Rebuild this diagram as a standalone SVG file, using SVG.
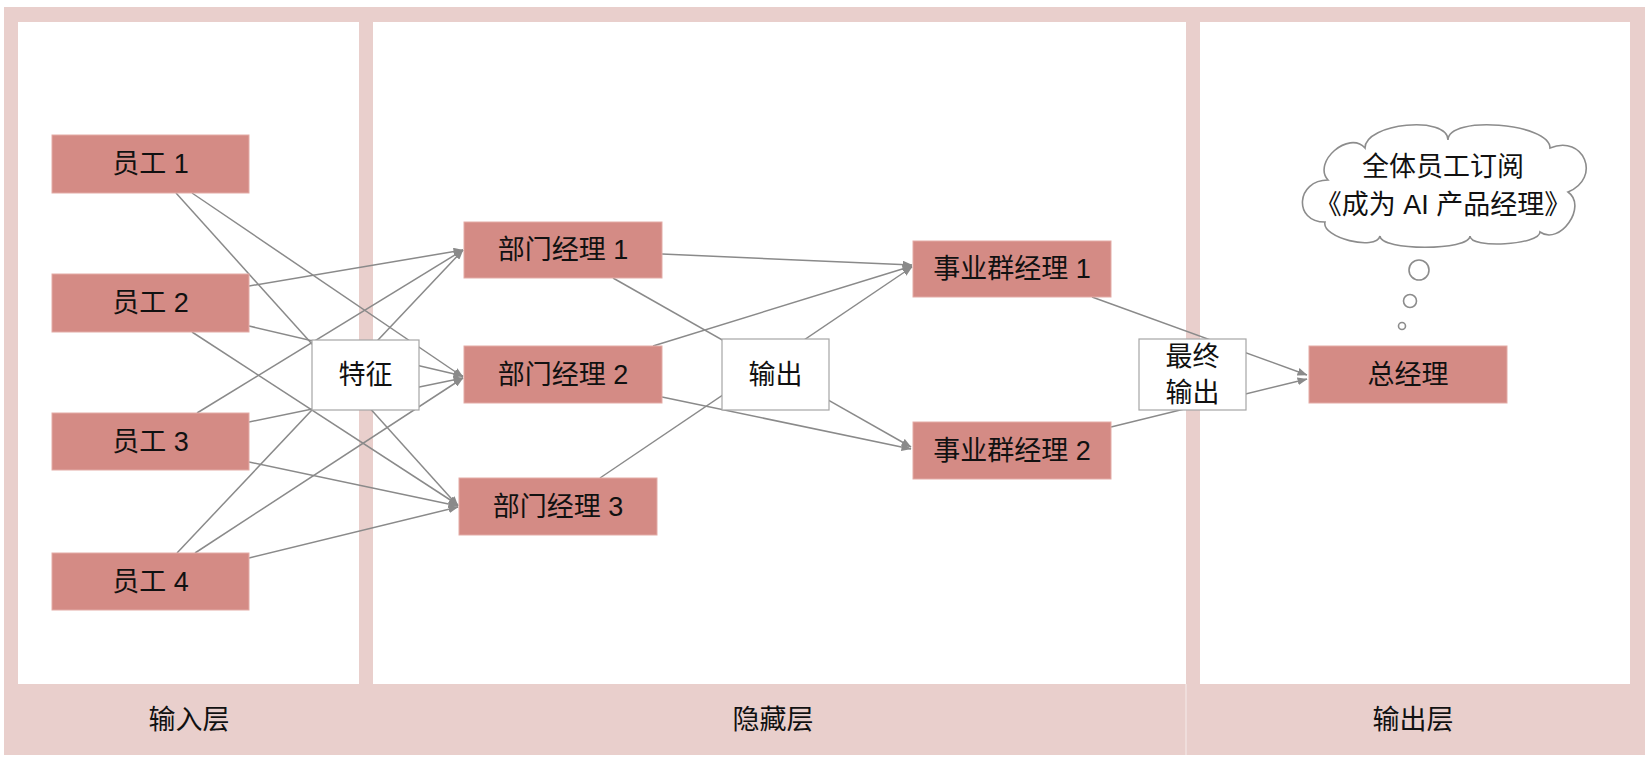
<svg xmlns="http://www.w3.org/2000/svg" width="1651" height="758" viewBox="0 0 1651 758">
  <defs>
    <style>
      .band { fill: #E9CFCC; }
      .panel { fill: #FFFFFF; }
      .node rect { fill: #D48B85; stroke: #E3ABA6; stroke-width: 1; }
      .mid rect { fill: #FFFFFF; stroke: #A6A6A6; stroke-width: 1.2; }
      text { font-family: "Liberation Sans", "Noto Sans CJK SC", sans-serif; font-size: 27px; fill: #111111; text-anchor: middle; dominant-baseline: central; }
      .edge { stroke: #8A8A8A; stroke-width: 1.5; fill: none; marker-end: url(#arrow); }
      .cloud { fill: #FFFFFF; stroke: #8C8C8C; stroke-width: 1.6; }
    </style>
    <marker id="arrow" markerWidth="10" markerHeight="8" refX="9.5" refY="4" orient="auto" markerUnits="userSpaceOnUse">
      <path d="M0,0 L10,4 L0,8 Z" fill="#8A8A8A"/>
    </marker>
  </defs>

  <rect x="0" y="0" width="1651" height="758" fill="#FFFFFF"/>

  <g id="frame">
    <rect class="band" x="4" y="7" width="1641" height="748"/>
    <rect class="panel" x="18" y="22" width="341" height="662"/>
    <rect class="panel" x="373" y="22" width="813" height="662"/>
    <rect class="panel" x="1200" y="22" width="430" height="662"/>
    <line x1="1186" y1="684" x2="1186" y2="755" stroke="#F6ECEB" stroke-width="1"/>
  </g>

  <g id="layer-labels">
    <text x="189" y="720">输入层</text>
    <text x="773" y="720">隐藏层</text>
    <text x="1413" y="720">输出层</text>
  </g>

  <g id="connectors">
    <line class="edge" x1="176" y1="193" x2="458" y2="506"/>
    <line class="edge" x1="192" y1="193" x2="463" y2="377"/>
    <line class="edge" x1="249" y1="286" x2="463" y2="250"/>
    <line class="edge" x1="249" y1="326" x2="463" y2="376"/>
    <line class="edge" x1="192" y1="332" x2="458" y2="505"/>
    <line class="edge" x1="197" y1="413" x2="463" y2="250"/>
    <line class="edge" x1="249" y1="422" x2="463" y2="378"/>
    <line class="edge" x1="249" y1="462" x2="458" y2="506"/>
    <line class="edge" x1="177" y1="553" x2="463" y2="250"/>
    <line class="edge" x1="195" y1="553" x2="463" y2="378"/>
    <line class="edge" x1="249" y1="558" x2="458" y2="507"/>

    <line class="edge" x1="662" y1="254" x2="912" y2="265"/>
    <line class="edge" x1="613" y1="278" x2="911" y2="447"/>
    <line class="edge" x1="653" y1="346" x2="912" y2="266"/>
    <line class="edge" x1="662" y1="397" x2="911" y2="449"/>
    <line class="edge" x1="600" y1="478" x2="912" y2="267"/>

    <line class="edge" x1="1092" y1="297" x2="1307" y2="375"/>
    <line class="edge" x1="1111" y1="427" x2="1307" y2="379"/>
  </g>

  <g id="feature" class="mid">
    <rect x="312" y="340" width="107" height="70"/>
    <text x="365.5" y="375">特征</text>
  </g>
  <g id="output" class="mid">
    <rect x="722" y="339" width="107" height="71"/>
    <text x="775.5" y="375">输出</text>
  </g>
  <g id="final-output" class="mid">
    <rect x="1139" y="339" width="107" height="71"/>
    <text x="1192.5" y="357">最终</text>
    <text x="1192.5" y="393">输出</text>
  </g>

  <g id="emp1" class="node">
    <rect x="52" y="135" width="197" height="58"/>
    <text x="150.5" y="164">员工 1</text>
  </g>
  <g id="emp2" class="node">
    <rect x="52" y="274" width="197" height="58"/>
    <text x="150.5" y="303">员工 2</text>
  </g>
  <g id="emp3" class="node">
    <rect x="52" y="413" width="197" height="57"/>
    <text x="150.5" y="441.5">员工 3</text>
  </g>
  <g id="emp4" class="node">
    <rect x="52" y="553" width="197" height="57"/>
    <text x="150.5" y="581.5">员工 4</text>
  </g>

  <g id="mgr1" class="node">
    <rect x="464" y="222" width="198" height="56"/>
    <text x="563" y="250">部门经理 1</text>
  </g>
  <g id="mgr2" class="node">
    <rect x="464" y="346" width="198" height="57"/>
    <text x="563" y="374.5">部门经理 2</text>
  </g>
  <g id="mgr3" class="node">
    <rect x="459" y="478" width="198" height="57"/>
    <text x="558" y="506.5">部门经理 3</text>
  </g>

  <g id="bg1" class="node">
    <rect x="913" y="241" width="198" height="56"/>
    <text x="1012" y="269">事业群经理 1</text>
  </g>
  <g id="bg2" class="node">
    <rect x="913" y="422" width="198" height="57"/>
    <text x="1012" y="450.5">事业群经理 2</text>
  </g>

  <g id="gm" class="node">
    <rect x="1309" y="346" width="198" height="57"/>
    <text x="1408" y="374.5">总经理</text>
  </g>

  <g id="thought">
    <path class="cloud" d="M1325,222 C1293,222 1296,180 1328,180 C1312,162 1349,130 1365,148 C1365,123 1448,115 1448,140 C1448,115 1550,123 1550,148 C1584,134 1602,178 1568,192 C1588,206 1560,246 1540,232 C1540,245 1470,249 1470,236 C1470,251 1380,251 1380,236 C1376,251.5 1321,237.5 1325,222 Z"/>
    <circle class="cloud" cx="1419" cy="270" r="10"/>
    <circle class="cloud" cx="1410" cy="301" r="6.5"/>
    <circle class="cloud" cx="1402" cy="326" r="3.5"/>
    <text x="1443" y="167">全体员工订阅</text>
    <text x="1443" y="205">《成为 AI 产品经理》</text>
  </g>
</svg>
